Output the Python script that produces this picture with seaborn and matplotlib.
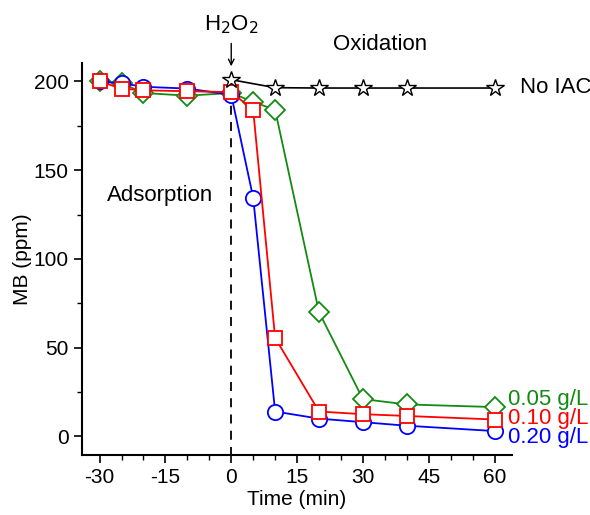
import matplotlib
matplotlib.use("Agg")
import matplotlib.pyplot as plt
import pandas as pd
import seaborn as sns

# ── data ────────────────────────────────────────────────────
time_ads = [-30, -25, -20, -10, 0, 5, 10, 20, 30, 40, 60]
mb_005 = [200, 199, 193.5, 192, 193.5, 188.5, 184, 70, 21, 18, 16.5]
mb_010 = [200, 196, 195, 194.5, 194, 184, 55.5, 14, 12.5, 11.5, 9.5]
mb_020 = [200, 199, 197, 196, 192.5, 134.5, 14, 10, 8, 6, 3]

time_noiac = [0, 10, 20, 30, 40, 60]
mb_noiac = [201, 196.5, 196.3, 196.3, 196.3, 196.3]

series_labels = ["0.05 g/L", "0.10 g/L", "0.20 g/L"]
x_ticks = [-30, -15, 0, 15, 30, 45, 60]
y_ticks = [0, 50, 100, 150, 200]

sns.set_style("ticks")
plt.rcParams["font.family"] = ["Liberation Sans", "DejaVu Sans"]
plt.rcParams.update({
    "axes.linewidth": 1.5,
    "axes.unicode_minus": False,
    "axes.edgecolor": "black",
    "axes.labelcolor": "black",
    "text.color": "black",
    "xtick.color": "black",
    "ytick.color": "black",
})

fig = plt.figure(figsize=(5.9, 5.15), dpi=100)
ax = fig.add_axes([0.139, 0.1165, 0.729, 0.7615])

df = pd.DataFrame({
    "time": time_ads * 3,
    "mb": mb_005 + mb_010 + mb_020,
    "dose": [series_labels[0]] * len(time_ads)
            + [series_labels[1]] * len(time_ads)
            + [series_labels[2]] * len(time_ads),
})
df_no = pd.DataFrame({"time": time_noiac, "mb": mb_noiac})

# draw order: green, blue, red (red squares sit on top)
styles = {
    "0.05 g/L": dict(color="#138a13", marker="D", ms=10, text_y=21.0),
    "0.20 g/L": dict(color="#0000ff", marker="o", ms=11, text_y=-0.7),
    "0.10 g/L": dict(color="#ff0000", marker="s", ms=10, text_y=10.3),
}

# dashed line at H2O2 addition
ax.plot([0, 0], [-11, 193], ls=(0, (5, 4)), color="black", lw=1.3, zorder=1)

for lab, st in styles.items():
    sub = df[df["dose"] == lab]
    sns.lineplot(data=sub, x="time", y="mb", ax=ax, color=st["color"],
                 marker=st["marker"], markersize=st["ms"], mfc="white",
                 mec=st["color"], mew=1.3, lw=1.3, legend=False)
    ax.text(63, st["text_y"], lab, color=st["color"], fontsize=16,
            va="center", ha="left", clip_on=False)

sns.lineplot(data=df_no, x="time", y="mb", ax=ax, color="black", marker="*",
             markersize=13, mfc="white", mec="black", mew=1.0, lw=1.2,
             legend=False)
ax.text(65.7, 196.5, "No IAC", fontsize=16, va="center", ha="left",
        clip_on=False)

ax.text(-16.1, 136, "Adsorption", fontsize=16, ha="center", va="center")
ax.text(34, 220.6, "Oxidation", fontsize=16, ha="center", va="center",
        clip_on=False)
ax.text(0, 232, r"H$_2$O$_2$", fontsize=16, ha="center", va="center",
        clip_on=False)
ax.annotate("", xy=(0, 207), xytext=(0, 223),
            arrowprops=dict(arrowstyle="->", color="black", lw=1.0),
            annotation_clip=False)

ax.set_xlim(-34, 64)
ax.set_ylim(-10.5, 210.5)
ax.set_xticks(x_ticks)
ax.set_yticks(y_ticks)
ax.set_xticks(range(-30, 61, 5), minor=True)
ax.set_yticks(range(0, 201, 25), minor=True)
ax.tick_params(axis="both", which="major", labelsize=15, length=6, width=1.2,
               direction="out")
ax.tick_params(axis="both", which="minor", length=3.5, width=1.0,
               direction="out")
ax.set_xlabel("Time (min)", fontsize=15, labelpad=2)
ax.set_ylabel("MB (ppm)", fontsize=15, labelpad=1)
sns.despine(ax=ax)

fig.savefig("out.png", dpi=100)
